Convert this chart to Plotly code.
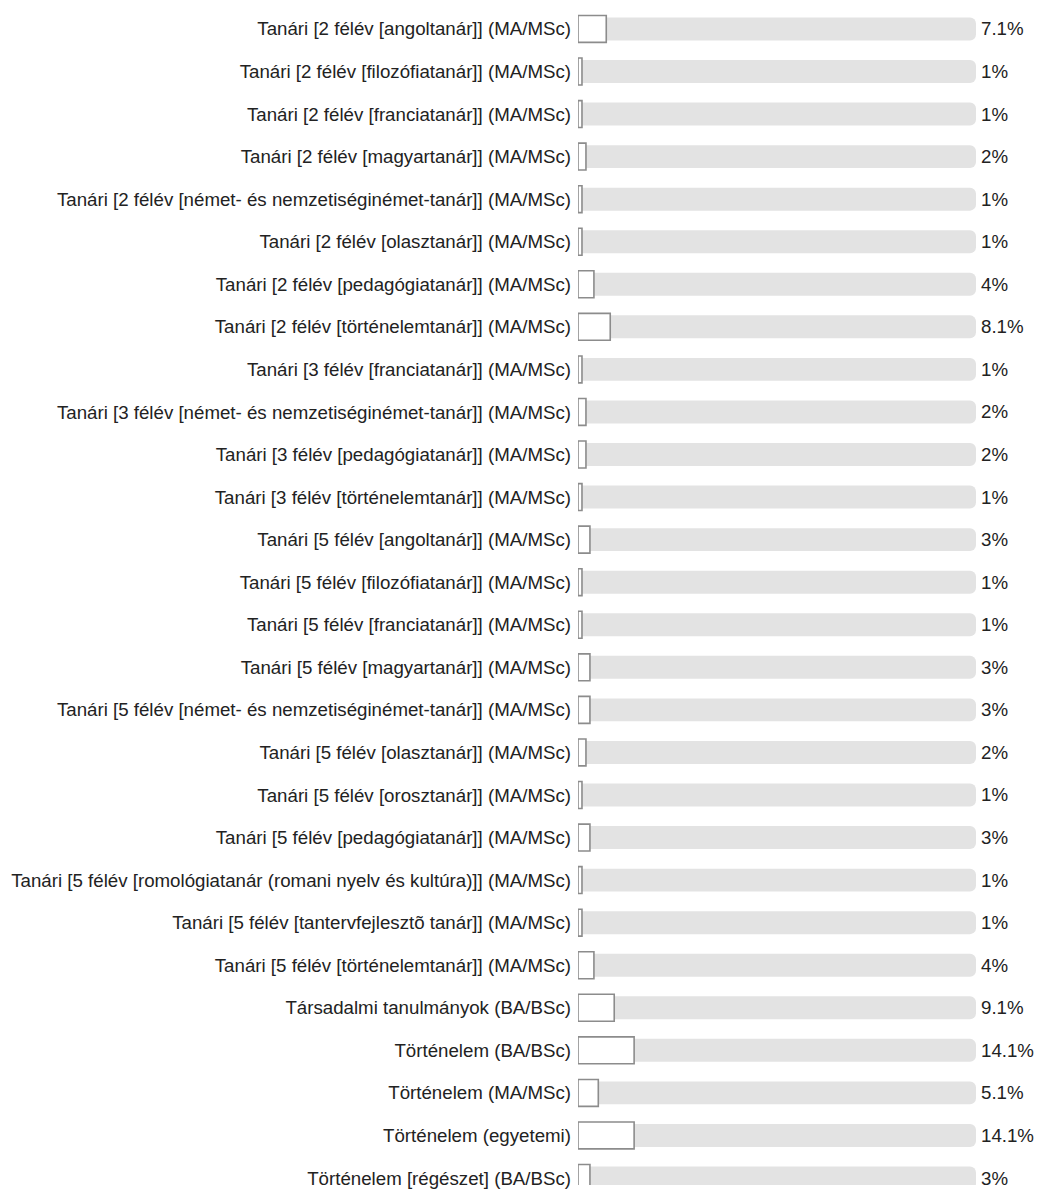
import plotly.graph_objects as go

categories = [
    "Tanári [2 félév [angoltanár]] (MA/MSc)",
    "Tanári [2 félév [filozófiatanár]] (MA/MSc)",
    "Tanári [2 félév [franciatanár]] (MA/MSc)",
    "Tanári [2 félév [magyartanár]] (MA/MSc)",
    "Tanári [2 félév [német- és nemzetiséginémet-tanár]] (MA/MSc)",
    "Tanári [2 félév [olasztanár]] (MA/MSc)",
    "Tanári [2 félév [pedagógiatanár]] (MA/MSc)",
    "Tanári [2 félév [történelemtanár]] (MA/MSc)",
    "Tanári [3 félév [franciatanár]] (MA/MSc)",
    "Tanári [3 félév [német- és nemzetiséginémet-tanár]] (MA/MSc)",
    "Tanári [3 félév [pedagógiatanár]] (MA/MSc)",
    "Tanári [3 félév [történelemtanár]] (MA/MSc)",
    "Tanári [5 félév [angoltanár]] (MA/MSc)",
    "Tanári [5 félév [filozófiatanár]] (MA/MSc)",
    "Tanári [5 félév [franciatanár]] (MA/MSc)",
    "Tanári [5 félév [magyartanár]] (MA/MSc)",
    "Tanári [5 félév [német- és nemzetiséginémet-tanár]] (MA/MSc)",
    "Tanári [5 félév [olasztanár]] (MA/MSc)",
    "Tanári [5 félév [orosztanár]] (MA/MSc)",
    "Tanári [5 félév [pedagógiatanár]] (MA/MSc)",
    "Tanári [5 félév [romológiatanár (romani nyelv és kultúra)]] (MA/MSc)",
    "Tanári [5 félév [tantervfejlesztõ tanár]] (MA/MSc)",
    "Tanári [5 félév [történelemtanár]] (MA/MSc)",
    "Társadalmi tanulmányok (BA/BSc)",
    "Történelem (BA/BSc)",
    "Történelem (MA/MSc)",
    "Történelem (egyetemi)",
    "Történelem [régészet] (BA/BSc)",
]

values = [7.1, 1, 1, 2, 1, 1, 4, 8.1, 1, 2, 2, 1, 3, 1, 1, 3, 3, 2, 1, 3, 1, 1, 4,
          9.1, 14.1, 5.1, 14.1, 3]

value_labels = [f"{v:g}%" for v in values]
track_max = 100

positions = list(range(len(categories)))
ROW = 42.67

fig = go.Figure()

fig.add_trace(go.Bar(
    y=positions, x=[track_max] * len(categories), orientation="h",
    width=23 / ROW,
    marker=dict(color="#e3e3e3", line=dict(width=0), cornerradius=6),
    hoverinfo="skip", showlegend=False,
))

fig.add_trace(go.Bar(
    y=positions, x=values, orientation="h",
    width=27 / ROW,
    marker=dict(color="#ffffff", line=dict(color="#8c8c8c", width=1.6), cornerradius=7),
    showlegend=False,
))

for p, lab in zip(positions, value_labels):
    fig.add_annotation(
        x=1, xref="paper", y=p, yref="y", text=lab, showarrow=False,
        xanchor="left", xshift=3, font=dict(size=18.7, color="#222222"),
    )

fig.update_layout(
    width=1039, height=1189,
    margin=dict(l=578, r=63, t=0, b=0),
    barmode="overlay",
    plot_bgcolor="white", paper_bgcolor="white",
    font=dict(family="Liberation Sans, Arial, sans-serif", size=18.7, color="#222222"),
    xaxis=dict(range=[0, track_max], visible=False, fixedrange=True),
    yaxis=dict(
        range=[27 + 7 / ROW, -29 / ROW],
        tickvals=positions, ticktext=categories,
        showgrid=False, zeroline=False, showline=False, ticks="",
        ticklabelstandoff=6, ticklabeloverflow="allow", fixedrange=True,
    ),
)

fig.write_html(
    "out.html",
    config={"displayModeBar": False},
    post_script="document.body.style.margin='0';document.body.style.overflow='hidden';",
)
